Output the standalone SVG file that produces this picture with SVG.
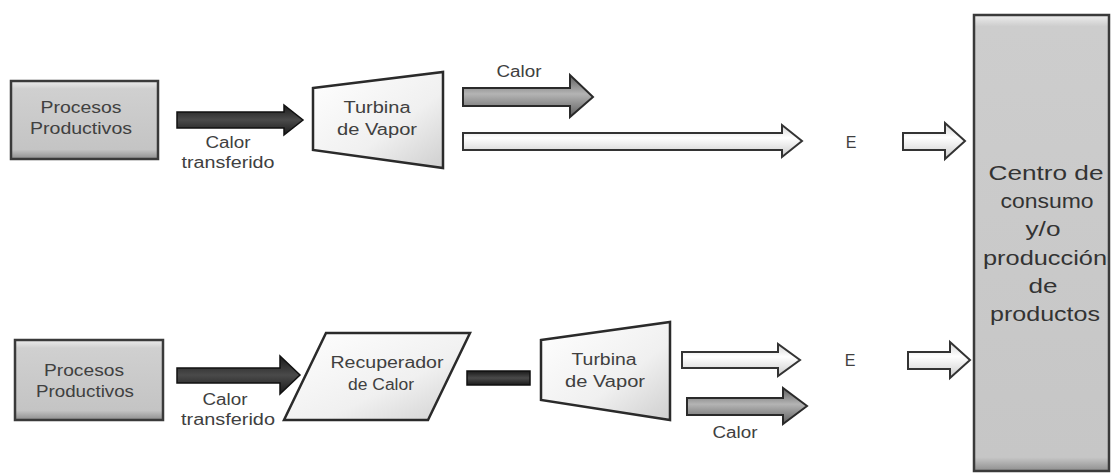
<svg xmlns="http://www.w3.org/2000/svg" width="1111" height="476" viewBox="0 0 1111 476">
<defs>
<linearGradient id="boxg" x1="0" y1="0" x2="0" y2="1">
<stop offset="0" stop-color="#ececec"/><stop offset="0.1" stop-color="#d0d0d0"/><stop offset="0.88" stop-color="#c4c4c4"/><stop offset="1" stop-color="#8e8e8e"/>
</linearGradient>
<linearGradient id="bigg" x1="0" y1="0" x2="0" y2="1">
<stop offset="0" stop-color="#eeeeee"/><stop offset="0.025" stop-color="#cdcdcd"/><stop offset="0.97" stop-color="#c6c6c6"/><stop offset="1" stop-color="#8e8e8e"/>
</linearGradient>
<linearGradient id="turbg" x1="0" y1="0" x2="1" y2="1">
<stop offset="0" stop-color="#ffffff"/><stop offset="0.6" stop-color="#f0f0f0"/><stop offset="1" stop-color="#cfcfcf"/>
</linearGradient>
<linearGradient id="darkg" x1="0" y1="0" x2="0" y2="1">
<stop offset="0" stop-color="#1a1a1a"/><stop offset="0.5" stop-color="#4a4a4a"/><stop offset="1" stop-color="#1a1a1a"/>
</linearGradient>
<linearGradient id="grayg" x1="0" y1="0" x2="0" y2="1">
<stop offset="0" stop-color="#5e5e5e"/><stop offset="0.45" stop-color="#b4b4b4"/><stop offset="1" stop-color="#5e5e5e"/>
</linearGradient>
<linearGradient id="whiteg" x1="0" y1="0" x2="0" y2="1">
<stop offset="0" stop-color="#d4d4d4"/><stop offset="0.4" stop-color="#ffffff"/><stop offset="1" stop-color="#cccccc"/>
</linearGradient>
<style>
.box{fill:url(#boxg);stroke:#3a3a3a;stroke-width:2.5}
.big{fill:url(#bigg);stroke:#3a3a3a;stroke-width:2.5}
.turb{fill:url(#turbg);stroke:#2a2a2a;stroke-width:2.5;stroke-linejoin:miter}
.dark{fill:url(#darkg);stroke:#111;stroke-width:1.5}
.gray{fill:url(#grayg);stroke:#2a2a2a;stroke-width:2}
.white{fill:url(#whiteg);stroke:#333;stroke-width:2}
text{font-family:"Liberation Sans",Arial,sans-serif;fill:#404040;text-anchor:middle}
.t{font-size:16px}
.e{font-size:16px}
.b{font-size:21px;fill:#333333}
</style>
</defs>
<rect width="1111" height="476" fill="#ffffff"/>

<g id="procesos1">
<rect class="box" x="11" y="81" width="147" height="78"/>
<text class="t" x="81" y="113" textLength="81" lengthAdjust="spacingAndGlyphs">Procesos</text>
<text class="t" x="81" y="134" textLength="102" lengthAdjust="spacingAndGlyphs">Productivos</text>
</g>

<g id="turbina1">
<polygon class="turb" points="313,88 443,72 443,168 313,150"/>
<text class="t" x="377" y="113" textLength="67" lengthAdjust="spacingAndGlyphs">Turbina</text>
<text class="t" x="377" y="135" textLength="80" lengthAdjust="spacingAndGlyphs">de Vapor</text>
</g>

<g id="procesos2">
<rect class="box" x="15" y="340" width="148" height="80"/>
<text class="t" x="84" y="376" textLength="80" lengthAdjust="spacingAndGlyphs">Procesos</text>
<text class="t" x="85" y="397" textLength="98" lengthAdjust="spacingAndGlyphs">Productivos</text>
</g>

<g id="recuperador">
<polygon class="turb" points="326,333 470,333 428,420 284,420"/>
<text class="t" x="387" y="368" textLength="113" lengthAdjust="spacingAndGlyphs">Recuperador</text>
<text class="t" x="381" y="390" textLength="66" lengthAdjust="spacingAndGlyphs">de Calor</text>
</g>

<g id="turbina2">
<polygon class="turb" points="541,340 670,322 670,420 541,400"/>
<text class="t" x="604" y="365" textLength="65" lengthAdjust="spacingAndGlyphs">Turbina</text>
<text class="t" x="605" y="387" textLength="80" lengthAdjust="spacingAndGlyphs">de Vapor</text>
</g>

<g id="centro">
<rect class="big" x="974" y="15" width="135" height="456"/>
<text class="b" x="1046" y="180" textLength="115" lengthAdjust="spacingAndGlyphs">Centro de</text>
<text class="b" x="1047" y="208" textLength="93" lengthAdjust="spacingAndGlyphs">consumo</text>
<text class="b" x="1043" y="236" textLength="35" lengthAdjust="spacingAndGlyphs">y/o</text>
<text class="b" x="1045" y="265" textLength="124" lengthAdjust="spacingAndGlyphs">producción</text>
<text class="b" x="1043" y="293" textLength="29" lengthAdjust="spacingAndGlyphs">de</text>
<text class="b" x="1045" y="321" textLength="110" lengthAdjust="spacingAndGlyphs">productos</text>
</g>

<g id="connectors">
<polygon class="dark" points="177,112 284,112 284,105 303,120 284,135 284,128 177,128"/>
<polygon class="gray" points="463,88 570,88 570,75 593,97 570,117 570,106 463,106"/>
<polygon class="white" points="463,133 782,133 782,125 802,141 782,157 782,150 463,150"/>
<polygon class="white" points="903,133 945,133 945,123 965,141 945,159 945,150 903,150"/>
<polygon class="dark" points="177,368 280,368 280,356 300,375 280,394 280,383 177,383"/>
<rect class="dark" x="467" y="371" width="63" height="14"/>
<polygon class="white" points="682,352 778,352 778,344 800,360 778,376 778,368 682,368"/>
<polygon class="gray" points="687,398 783,398 783,388 807,406 783,424 783,415 687,415"/>
<polygon class="white" points="908,352 950,352 950,342 970,360 950,378 950,369 908,369"/>
</g>

<g id="labels">
<text class="t" x="228" y="148" textLength="45" lengthAdjust="spacingAndGlyphs">Calor</text>
<text class="t" x="228" y="168" textLength="93" lengthAdjust="spacingAndGlyphs">transferido</text>
<text class="t" x="519" y="77" textLength="45" lengthAdjust="spacingAndGlyphs">Calor</text>
<text class="e" x="851" y="148">E</text>
<text class="t" x="225" y="405" textLength="45" lengthAdjust="spacingAndGlyphs">Calor</text>
<text class="t" x="228" y="425" textLength="94" lengthAdjust="spacingAndGlyphs">transferido</text>
<text class="e" x="850" y="366">E</text>
<text class="t" x="735" y="438" textLength="45" lengthAdjust="spacingAndGlyphs">Calor</text>
</g>
</svg>
